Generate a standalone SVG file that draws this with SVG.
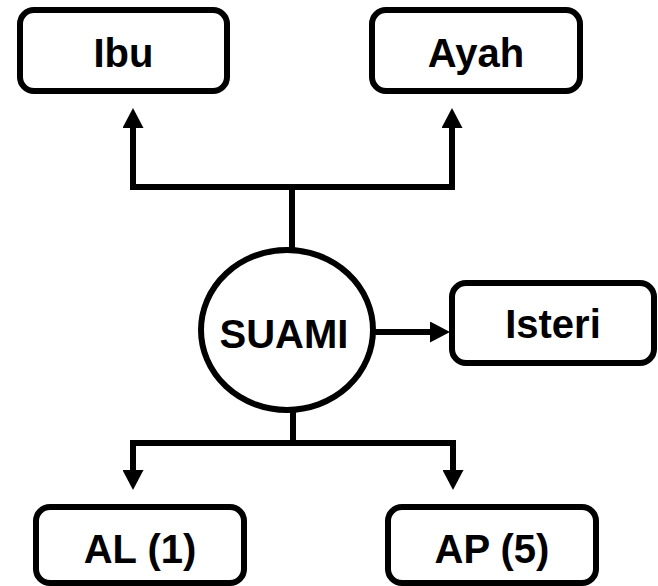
<svg xmlns="http://www.w3.org/2000/svg" width="658" height="586" viewBox="0 0 658 586">
<defs>
<style>
.box{fill:#fff;stroke:#000;stroke-width:6}
.lbl{font-family:"Liberation Sans",Arial,sans-serif;font-weight:bold;font-size:40px;fill:#000;text-anchor:middle}
.con{fill:none;stroke:#000;stroke-width:6;stroke-linejoin:miter}
</style>
<marker id="arr" viewBox="0 0 20 21" refX="0" refY="10.5" markerWidth="20" markerHeight="21" markerUnits="userSpaceOnUse" orient="auto">
<path d="M0,0 L20,10.5 L0,21 z" fill="#000"/>
</marker>
</defs>
<rect width="658" height="586" fill="#fff"/>
<g id="connectors">
<path class="con" d="M292,248 V187 H133 V128" marker-end="url(#arr)"/>
<path class="con" d="M292,187 H452 V128" marker-end="url(#arr)"/>
<path class="con" d="M373,332 H430" marker-end="url(#arr)"/>
<path class="con" d="M293,412 V443 H133 V470" marker-end="url(#arr)"/>
<path class="con" d="M293,443 H453 V470" marker-end="url(#arr)"/>
</g>
<g id="ibu">
<rect class="box" x="20" y="10" width="207" height="81" rx="14"/>
<text class="lbl" x="123.5" y="67">Ibu</text>
</g>
<g id="ayah">
<rect class="box" x="372" y="10" width="208" height="81" rx="14"/>
<text class="lbl" x="476" y="67">Ayah</text>
</g>
<g id="suami">
<ellipse class="box" cx="287" cy="330" rx="86" ry="80"/>
<text class="lbl" x="284" y="348">SUAMI</text>
</g>
<g id="isteri">
<rect class="box" x="452" y="283" width="202" height="80" rx="14"/>
<text class="lbl" x="553" y="338">Isteri</text>
</g>
<g id="al">
<rect class="box" x="36" y="507" width="208" height="76" rx="14"/>
<text class="lbl" x="140" y="563">AL (1)</text>
</g>
<g id="ap">
<rect class="box" x="388" y="507" width="208" height="76" rx="14"/>
<text class="lbl" x="492" y="563">AP (5)</text>
</g>
</svg>
